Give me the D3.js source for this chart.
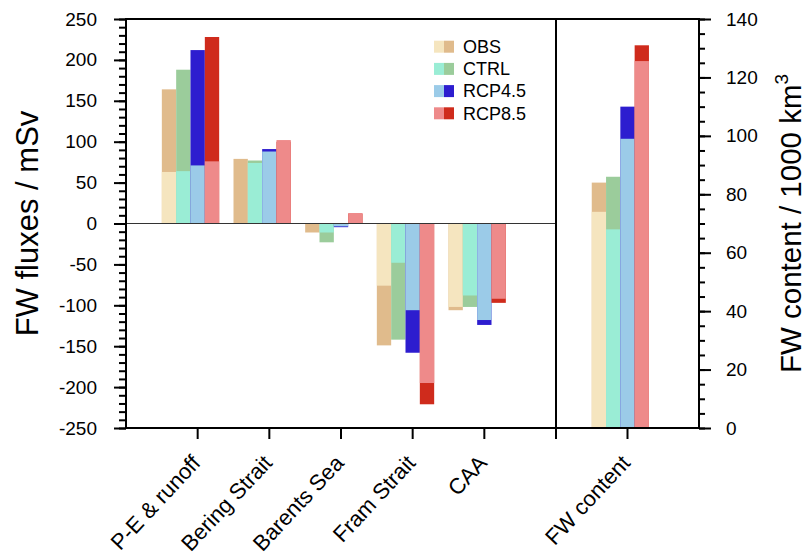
<!DOCTYPE html>
<html>
<head>
<meta charset="utf-8">
<script src="https://cdn.jsdelivr.net/npm/d3@7"></script>
<style>
  body { margin: 0; background: #fff; }
  svg { font-family: "Liberation Sans", Arial, Helvetica, sans-serif; }
</style>
</head>
<body>
<div id="viz"></div>
<script>
// categories and series
const categories = ['P-E & runoff', 'Bering Strait', 'Barents Sea', 'Fram Strait', 'CAA'];
const series = ['OBS', 'CTRL', 'RCP4.5', 'RCP8.5'];

// FW fluxes (mSv): dark = total, light = component
const obsTotal  = [164, 79, -11, -149, -106];
const obsPart   = [63, 0, 0, -76, -102];
const ctrlTotal = [188, 77, -23, -142, -102];
const ctrlPart  = [64, 74, -11, -48, -88];
const rcp45Total = [212, 91, -4.5, -158, -124];
const rcp45Part  = [71, 88, -3.5, -106, -118];
const rcp85Total = [228, 100, 12, -221, -97];
const rcp85Part  = [76, 102, 12.8, -195, -92];

// FW content (1000 km^3), one value per series
const fwTotal = [84, 86, 110, 131];
const fwPart  = [74, 68, 99, 125.6];

const leftTicks = d3.range(-250, 251, 50);
const rightTicks = d3.range(0, 141, 20);

const lightColors = ['#f5e5bf', '#9aedd5', '#9bcbe8', '#ee8a8a'];
const darkColors  = ['#e0bb8c', '#9bcc9b', '#2d1dcf', '#cf2b1c'];

const totals = [obsTotal, ctrlTotal, rcp45Total, rcp85Total];
const parts = [obsPart, ctrlPart, rcp45Part, rcp85Part];

const W = 807, H = 556;
const pLeft = 126, pSep = 556, pRight = 699, pTop = 19, pBottom = 428;

const svg = d3.select('#viz').append('svg').attr('width', W).attr('height', H);

const y = d3.scaleLinear().domain([-250, 250]).range([pBottom, pTop]);
const y2 = d3.scaleLinear().domain([0, 140]).range([pBottom, pTop]);
const x = d3.scaleLinear().domain([0, categories.length + 1]).range([pLeft, pSep]);
const x2 = d3.scaleLinear().domain([0, 2]).range([pSep, pRight]);
const bw = x(0.2) - x(0);
const bw2 = x2(0.2) - x2(0);

function bar(ys, xpos, w, v, color) {
  svg.append('rect')
    .attr('x', xpos).attr('width', w)
    .attr('y', Math.min(ys(v), ys(0)))
    .attr('height', Math.abs(ys(v) - ys(0)))
    .attr('fill', color);
}

// flux bars
categories.forEach((c, k) => {
  series.forEach((s, i) => {
    const xp = x(k + 1 - 0.5 + 0.2 * i);
    bar(y, xp, bw, totals[i][k], darkColors[i]);
    bar(y, xp, bw, parts[i][k], lightColors[i]);
  });
});

// FW content bars
series.forEach((s, i) => {
  const xp = x2(1 - 0.5 + 0.2 * i);
  bar(y2, xp, bw2, fwTotal[i], darkColors[i]);
  bar(y2, xp, bw2, fwPart[i], lightColors[i]);
});

// zero line
svg.append('line')
  .attr('x1', pLeft).attr('x2', pSep).attr('y1', y(0)).attr('y2', y(0))
  .attr('stroke', '#333').attr('stroke-width', 1.2);

// axes
function styleAxis(g) {
  g.select('.domain').remove();
  g.selectAll('line').attr('stroke', '#000').attr('stroke-width', 2);
  g.selectAll('text').attr('fill', '#000').attr('font-size', 19);
}

svg.append('g').attr('transform', `translate(${pLeft},0)`)
  .call(d3.axisLeft(y).tickValues(d3.range(-250, 251, 10)).tickSize(7).tickFormat(''))
  .call(styleAxis);
svg.append('g').attr('transform', `translate(${pLeft},0)`)
  .call(d3.axisLeft(y).tickValues(leftTicks).tickSize(12).tickPadding(17).tickFormat(d => String(d)))
  .call(styleAxis);

svg.append('g').attr('transform', `translate(${pRight},0)`)
  .call(d3.axisRight(y2).tickValues(d3.range(0, 141, 5)).tickSize(6).tickFormat(''))
  .call(styleAxis);
svg.append('g').attr('transform', `translate(${pRight},0)`)
  .call(d3.axisRight(y2).tickValues(rightTicks).tickSize(12).tickPadding(15))
  .call(styleAxis);

// bottom ticks
const bottomTicks = d3.range(1, categories.length + 2).map(d => x(d)).concat([x2(1)]);
svg.selectAll('.bt').data(bottomTicks).enter().append('line')
  .attr('x1', d => d).attr('x2', d => d)
  .attr('y1', pBottom).attr('y2', pBottom + 11)
  .attr('stroke', '#000').attr('stroke-width', 2);

// frame
const frame = svg.append('g').attr('stroke', '#000').attr('stroke-width', 2).attr('fill', 'none');
frame.append('rect').attr('x', pLeft).attr('y', pTop).attr('width', pRight - pLeft).attr('height', pBottom - pTop);
frame.append('line').attr('x1', pSep).attr('x2', pSep).attr('y1', pTop).attr('y2', pBottom);

// category labels
const labelPos = categories.map((c, k) => ({ text: c, x: x(k + 1) })).concat([{ text: 'FW content', x: x2(1) }]);
labelPos.forEach(d => {
  svg.append('text')
    .attr('transform', `translate(${d.x + 4},464) rotate(-47)`)
    .attr('text-anchor', 'end')
    .attr('font-size', 22)
    .text(d.text);
});

// axis titles
svg.append('text')
  .attr('transform', `translate(38,${(pTop + pBottom) / 2}) rotate(-90)`)
  .attr('text-anchor', 'middle')
  .attr('font-size', 31)
  .text('FW fluxes / mSv');

const rt = svg.append('text')
  .attr('transform', `translate(801,${(pTop + pBottom) / 2}) rotate(-90)`)
  .attr('text-anchor', 'middle')
  .attr('font-size', 29.5);
rt.append('tspan').text('FW content / 1000 km');
rt.append('tspan').attr('font-size', 19).attr('dy', -13).text('3');

// legend
const lg = svg.append('g').attr('transform', 'translate(434,0)');
series.forEach((s, i) => {
  const cy = 46.7 + i * 22.2;
  lg.append('rect').attr('x', 0).attr('y', cy - 6).attr('width', 10).attr('height', 12).attr('fill', lightColors[i]);
  lg.append('rect').attr('x', 10).attr('y', cy - 6).attr('width', 10).attr('height', 12).attr('fill', darkColors[i]);
  lg.append('text').attr('x', 29).attr('y', cy).attr('dy', '0.35em')
    .attr('font-size', 18).text(s);
});
</script>
</body>
</html>
